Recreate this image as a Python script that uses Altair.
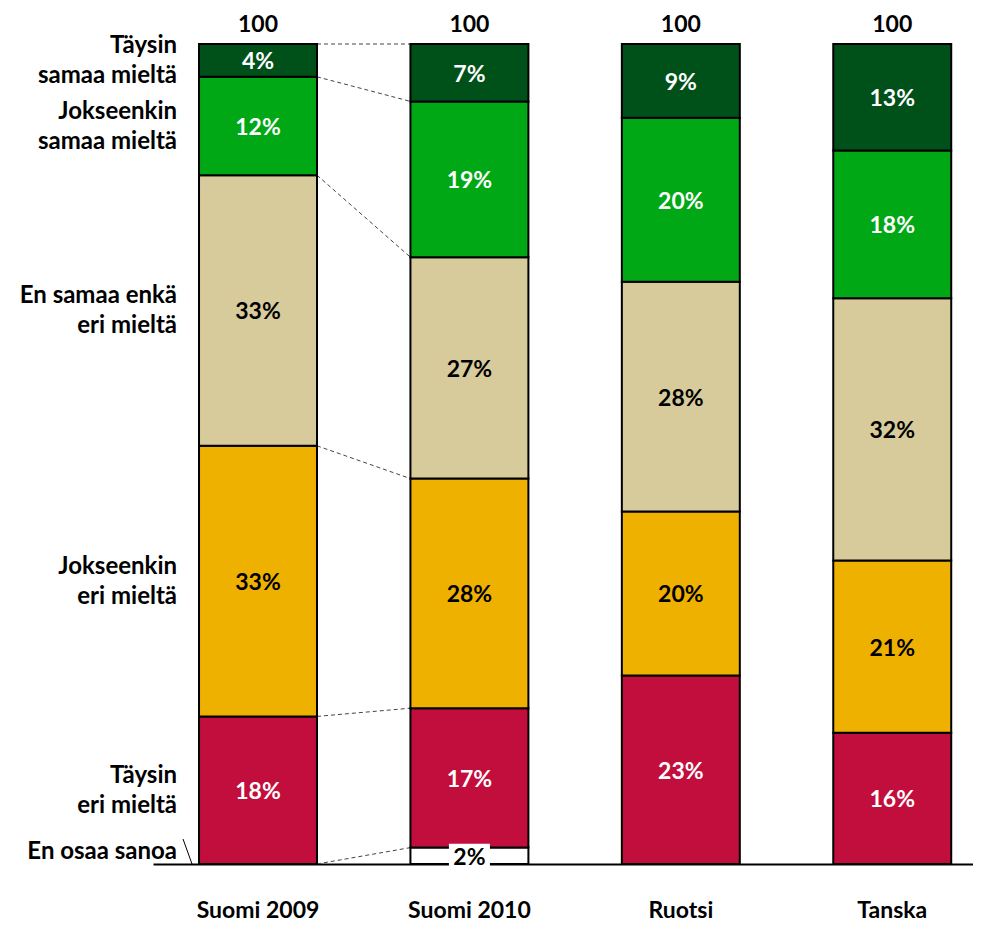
import altair as alt
import pandas as pd

categories = ["Suomi 2009", "Suomi 2010", "Ruotsi", "Tanska"]
series = ["En osaa sanoa", "Täysin eri mieltä", "Jokseenkin eri mieltä",
          "En samaa enkä eri mieltä", "Jokseenkin samaa mieltä", "Täysin samaa mieltä"]
series_lines = [["En osaa sanoa"], ["Täysin", "eri mieltä"], ["Jokseenkin", "eri mieltä"],
                ["En samaa enkä", "eri mieltä"], ["Jokseenkin", "samaa mieltä"],
                ["Täysin", "samaa mieltä"]]

values_en_osaa = [0, 2, 0, 0]
values_taysin_eri = [18, 17, 23, 16]
values_jokseenkin_eri = [33, 28, 20, 21]
values_neutral = [33, 27, 28, 32]
values_jokseenkin_samaa = [12, 19, 20, 18]
values_taysin_samaa = [4, 7, 9, 13]
totals = [100, 100, 100, 100]

fill_colors = ["#FFFFFF", "#C20E3C", "#EEB100", "#D8CB9B", "#00A816", "#00501A"]
label_colors = ["#000000", "#FFFFFF", "#000000", "#000000", "#FFFFFF", "#FFFFFF"]

value_lists = [values_en_osaa, values_taysin_eri, values_jokseenkin_eri,
               values_neutral, values_jokseenkin_samaa, values_taysin_samaa]

HW = 0.279  # half bar width in category units
FONT = "Lato"
FS = 23

rows = []
for ci, cat in enumerate(categories):
    base = 0
    for si, s in enumerate(series):
        v = value_lists[si][ci]
        rows.append(dict(cat=cat, idx=ci, series=s, value=v, y0=base, y1=base + v,
                         mid=base + v / 2, label=f"{v}%", xl=ci - HW, xr=ci + HW))
        base += v
seg = pd.DataFrame(rows)

tot = pd.DataFrame(dict(cat=categories, idx=list(range(len(categories))), total=totals))
tot["total_label"] = tot["total"].astype(str)
tot["zero"] = 0

a = seg[seg.cat == categories[0]][["series", "xr", "y1"]].rename(columns={"xr": "xa", "y1": "ya"})
b = seg[seg.cat == categories[1]][["series", "xl", "y1"]].rename(columns={"xl": "xb", "y1": "yb"})
conn = a.merge(b, on="series")

left = seg[seg.cat == categories[0]][["series", "mid", "xl"]].copy()
left["lines"] = series_lines

xs = alt.Scale(domain=[-0.4967, 3.382], nice=False, zero=False)
ys = alt.Scale(domain=[0, 104.39], nice=False, zero=False)
cs = alt.Scale(domain=series, range=fill_colors)
ts = alt.Scale(domain=series, range=label_colors)

connectors = alt.Chart(conn).mark_rule(strokeDash=[4, 3], color="#444444", strokeWidth=1).encode(
    x=alt.X("xa:Q", scale=xs, axis=alt.Axis(labels=False, ticks=False, grid=False, title=None,
                                            domainColor="black", domainWidth=2)),
    x2="xb:Q",
    y=alt.Y("ya:Q", scale=ys, axis=None),
    y2="yb:Q",
)

bars = alt.Chart(seg).transform_filter("datum.value > 0").mark_rect(
    stroke="black", strokeWidth=2
).encode(
    x=alt.X("xl:Q", scale=xs),
    x2="xr:Q",
    y=alt.Y("y0:Q", scale=ys),
    y2="y1:Q",
    fill=alt.Fill("series:N", scale=cs, legend=None),
)

tick = alt.Chart(left).transform_filter(f"datum.series == '{series[0]}'").transform_calculate(
    y0="0"
).mark_rule(
    color="black", strokeWidth=1, xOffset=-7, x2Offset=-16, y2Offset=-25
).encode(
    x=alt.X("xl:Q", scale=xs),
    x2="xl:Q",
    y=alt.Y("y0:Q", scale=ys),
    y2="y0:Q",
)

box = alt.Chart(seg).transform_filter(
    f"datum.series == '{series[0]}' && datum.value > 0"
).mark_point(
    shape="M-1,-0.585L1,-0.585L1,0.585L-1,0.585Z", filled=True, fill="white",
    opacity=1, size=1681, strokeWidth=0
).encode(
    x=alt.X("idx:Q", scale=xs),
    y=alt.Y("mid:Q", scale=ys),
)

seg_text = alt.Chart(seg).transform_filter("datum.value > 0").mark_text(
    font=FONT, fontWeight="bold", fontSize=FS, baseline="middle", align="center", dy=2
).encode(
    x=alt.X("idx:Q", scale=xs),
    y=alt.Y("mid:Q", scale=ys),
    text="label:N",
    color=alt.Color("series:N", scale=ts, legend=None),
)

total_text = alt.Chart(tot).mark_text(
    font=FONT, fontWeight="bold", fontSize=FS, baseline="middle", align="center", dy=-19,
    color="black"
).encode(
    x=alt.X("idx:Q", scale=xs),
    y=alt.Y("total:Q", scale=ys),
    text="total_label:N",
)

cat_text = alt.Chart(tot).mark_text(
    font=FONT, fontWeight="bold", fontSize=FS, baseline="middle", align="center", dy=47,
    color="black"
).encode(
    x=alt.X("idx:Q", scale=xs),
    y=alt.Y("zero:Q", scale=ys),
    text="cat:N",
)

left_main = alt.Chart(left).transform_filter(f"datum.series != '{series[0]}'").mark_text(
    font=FONT, fontWeight="bold", fontSize=24, baseline="middle", align="right", dx=-22,
    dy=-14, lineHeight=30, color="black"
).encode(
    x=alt.X("xl:Q", scale=xs),
    y=alt.Y("mid:Q", scale=ys),
    text="lines:N",
)

left_last = alt.Chart(left).transform_filter(f"datum.series == '{series[0]}'").mark_text(
    font=FONT, fontWeight="bold", fontSize=24, baseline="middle", align="right", dx=-22,
    dy=-12, color="black"
).encode(
    x=alt.X("xl:Q", scale=xs),
    y=alt.Y("mid:Q", scale=ys),
    text="lines:N",
)

chart = alt.layer(
    connectors, bars, tick, box, seg_text, total_text, cat_text, left_main, left_last
).properties(
    width=820, height=856,
    autosize=alt.AutoSizeParams(type="none"),
    padding={"left": 145, "top": 0, "right": 0, "bottom": 60},
).configure_view(stroke=None)

chart.save("out.html", embed_options={"renderer": "svg", "actions": False})
